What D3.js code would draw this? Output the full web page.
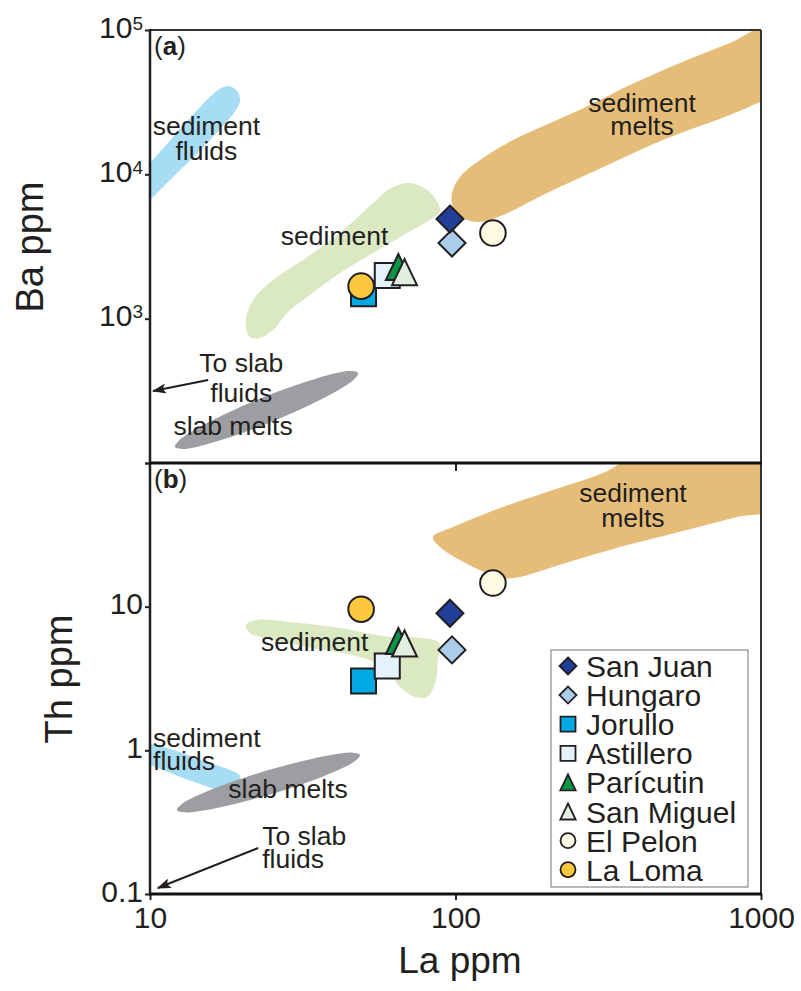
<!DOCTYPE html>
<html>
<head>
<meta charset="utf-8">
<script src="https://cdn.jsdelivr.net/npm/d3@7"></script>
<style>
  body { margin: 0; background: #fff; }
  svg { display: block; font-family: "Liberation Sans", Arial, Helvetica, sans-serif; }
</style>
</head>
<body>
<svg id="chart" width="801" height="991"></svg>
<script>
// ---- sample data (La, Ba, Th in ppm) ----
const samples = ["San Juan", "Hungaro", "Jorullo", "Astillero", "Parícutin", "San Miguel", "El Pelon", "La Loma"];
const laPpm = [95.9, 97.4, 50, 59.8, 65, 68.1, 132.6, 49.1];
const baPpm = [4900, 3340, 1490, 1990, 2280, 2100, 3920, 1680];
const thPpm = [9.0, 5.0, 3.04, 3.86, 5.77, 5.54, 14.6, 9.6];
const symbolKinds = ["diamond", "diamond", "square", "square", "triangle", "triangle", "circle", "circle"];
const fillColors = ["#213f99", "#abcde9", "#00a9e4", "#e4f2fb", "#0a9447", "#e2eee0", "#fefae3", "#fdc73e"];
const drawOrder = [2, 3, 7, 4, 5, 1, 0, 6];

// ---- axis ticks ----
const laTicks = [10, 100, 1000];
const baTicks = [100, 1000, 10000, 100000];
const thTicks = [0.1, 1, 10, 100];
const thTickLabels = ["0.1", "1", "10", ""];

// ---- source fields, panel (a): [La, Ba] ----
const sedFluidsBa = [[9.27, 10400], [10.2, 12570], [11.9, 18140], [13.8, 25770], [15.96, 35450], [17.1, 39630],
  [18.1, 40930], [19.3, 37780], [19.7, 32220], [19.1, 27910], [15.4, 16490], [11.9, 9580], [10.15, 6855], [9.27, 5660]];
const sedimentBa = [[20.8, 1094], [22.1, 1413], [25.3, 1853], [32.7, 2674], [41.9, 3922], [53.7, 6330], [62.4, 8170],
  [71.0, 8710], [80.7, 7790], [87.6, 6330], [89.0, 5480], [82.5, 4826], [69.4, 3922], [53.7, 2850], [41.9, 2072],
  [32.7, 1413], [28.1, 1094], [25.3, 834], [22.9, 735], [21.2, 746], [20.6, 875]];
const sedMeltsBa = [[1070, 104900], [791, 81260], [543, 59070], [372.6, 41570], [275.6, 30230], [214.9, 23780],
  [154.3, 17290], [120.3, 12570], [103.4, 9580], [97.4, 7425], [98.1, 5937], [105.8, 4982], [120.3, 4674], [143, 5226],
  [199.3, 7425], [290.5, 10720], [477.8, 17290], [791, 25770], [941.5, 30230], [1070, 35450]];
const slabMeltsBa = [[47.97, 420.4], [46.6, 380], [40.2, 308.9], [24.97, 192.1], [15.17, 133.9], [12.75, 125.2],
  [12.07, 129.1], [12.43, 142.7], [14.39, 175.6], [23.19, 282.2], [38.17, 405.2], [45.43, 433.3]];

// ---- source fields, panel (b): [La, Th] ----
const sedFluidsTh = [[9.27, 1.18], [10, 1.125], [12.5, 0.974], [15.7, 0.816], [18.3, 0.73], [19.7, 0.663],
  [19.4, 0.583], [17.2, 0.53], [14.6, 0.583], [12.1, 0.674], [10, 0.79], [9.27, 0.829]];
const sedimentTh = [[20.6, 7.45], [22.4, 8.08], [28.7, 7.82], [41.9, 7.10], [61.0, 6.15], [78.3, 6.05], [88.3, 5.58],
  [87.6, 4.25], [85.7, 2.94], [80.7, 2.35], [73.7, 2.35], [65.8, 2.76], [58.8, 3.74], [48.7, 4.46], [32.7, 5.24],
  [25.3, 5.86], [21.2, 6.56]];
const sedMeltsTh = [[84.4, 30.5], [98.1, 35.8], [143, 49.4], [208.5, 64.9], [304, 85.2], [401.7, 113.6],
  [1111, 113.6], [1111, 48.6], [834.5, 42.1], [572.5, 34.2], [345.5, 26.0], [208.5, 18.9], [162.6, 16.1],
  [145.2, 15.8], [126.8, 17.1], [103.4, 21.1], [89.0, 26.0]];
const slabMeltsTh = [[48.7, 0.928], [47.1, 0.848], [40.5, 0.716], [25.07, 0.497], [15.28, 0.384], [12.89, 0.370],
  [12.25, 0.384], [12.66, 0.420], [14.73, 0.498], [23.8, 0.718], [39.1, 0.929], [46.3, 0.963]];

const ink = "#231f20";
const fieldColors = { fluids: "#a7dcf5", sediment: "#dae9c2", melts: "#e5bd78", slab: "#9d9ea2" };

const svg = d3.select("#chart");

const x = d3.scaleLog().domain([10, 1000]).range([150, 761]);
const yBa = d3.scaleLog().domain([100, 100000]).range([463, 30]);
const yTh = d3.scaleLog().domain([0.1, 100]).range([894, 463]);

// clip regions for the two panels
const defs = svg.append("defs");
[["clipA", yBa], ["clipB", yTh]].forEach(([id, y]) => {
  const [y0, y1] = y.range();
  defs.append("clipPath").attr("id", id).append("rect")
    .attr("x", x.range()[0]).attr("y", y1)
    .attr("width", x.range()[1] - x.range()[0]).attr("height", y0 - y1);
});

// arrow head marker
defs.append("marker").attr("id", "arrowHead")
  .attr("viewBox", "0 0 14 10").attr("refX", 13).attr("refY", 5)
  .attr("markerWidth", 14).attr("markerHeight", 10).attr("markerUnits", "userSpaceOnUse")
  .attr("orient", "auto")
  .append("path").attr("d", "M0,0 L14,5 L0,10 L3,5 Z").attr("fill", ink);

// marker shapes; size = (half extent)^2
const shapeTypes = {
  diamond: { draw(ctx, size) { const r = Math.sqrt(size); ctx.moveTo(0, -r); ctx.lineTo(r, 0); ctx.lineTo(0, r); ctx.lineTo(-r, 0); ctx.closePath(); } },
  square: { draw(ctx, size) { const r = Math.sqrt(size); ctx.moveTo(-r, -r); ctx.lineTo(r, -r); ctx.lineTo(r, r); ctx.lineTo(-r, r); ctx.closePath(); } },
  triangle: { draw(ctx, size) { const r = Math.sqrt(size); ctx.moveTo(0, -r); ctx.lineTo(r * 0.96, r); ctx.lineTo(-r * 0.96, r); ctx.closePath(); } },
  circle: { draw(ctx, size) { const r = Math.sqrt(size); ctx.moveTo(r, 0); ctx.arc(0, 0, r, 0, 2 * Math.PI); } }
};
const plotRadius = { diamond: 13.5, square: 12.5, triangle: 13, circle: 12.8 };
const legendRadius = { diamond: 8.5, square: 7.5, triangle: 8, circle: 7.5 };

function drawPanel(opts) {
  const { y, clipId, fields, values, labels, tag } = opts;
  const g = svg.append("g");
  const clipped = g.append("g").attr("clip-path", `url(#${clipId})`);
  const line = d3.line().x(d => x(d[0])).y(d => y(d[1])).curve(d3.curveCatmullRomClosed.alpha(0.5));
  fields.forEach(f => {
    clipped.append("path").attr("d", line(f.pts)).attr("fill", fieldColors[f.kind]).attr("stroke", "none");
  });

  // samples
  drawOrder.forEach(i => {
    const k = symbolKinds[i];
    g.append("path")
      .attr("transform", `translate(${x(laPpm[i])},${y(values[i])})`)
      .attr("d", d3.symbol().type(shapeTypes[k]).size(plotRadius[k] * plotRadius[k])())
      .attr("fill", fillColors[i]).attr("stroke", ink).attr("stroke-width", 2).attr("stroke-linejoin", "miter");
  });

  // field labels (one text element per label, one tspan per line)
  labels.forEach(l => {
    const t = g.append("text")
      .attr("text-anchor", l.anchor || "middle")
      .attr("font-size", 26.5).attr("fill", ink);
    l.lines.forEach((s, j) => {
      t.append("tspan").attr("x", x(l.la)).attr("y", y(l.v[j])).text(s);
    });
  });

  // arrow toward slab fluids
  g.append("line")
    .attr("x1", x(opts.arrow[0][0])).attr("y1", y(opts.arrow[0][1]))
    .attr("x2", x(opts.arrow[1][0])).attr("y2", y(opts.arrow[1][1]))
    .attr("stroke", ink).attr("stroke-width", 2).attr("marker-end", "url(#arrowHead)");

  // panel tag
  const t = g.append("text").attr("x", x.range()[0] + 4).attr("y", y.range()[1] + 25)
    .attr("font-size", 26).attr("fill", ink);
  t.append("tspan").text("(");
  t.append("tspan").attr("font-weight", "bold").text(tag);
  t.append("tspan").text(")");
  return g;
}

drawPanel({
  y: yBa, clipId: "clipA", tag: "a", values: baPpm,
  fields: [
    { kind: "fluids", pts: sedFluidsBa },
    { kind: "sediment", pts: sedimentBa },
    { kind: "melts", pts: sedMeltsBa },
    { kind: "slab", pts: slabMeltsBa }
  ],
  labels: [
    { lines: ["sediment", "fluids"], la: 15.3, v: [18730, 12570] },
    { lines: ["sediment"], la: 40.2, v: [3239] },
    { lines: ["sediment", "melts"], la: 407.9, v: [27030, 18730] },
    { lines: ["To slab", "fluids"], la: 19.9, v: [427, 265] },
    { lines: ["slab melts"], la: 18.7, v: [156] }
  ],
  arrow: [[15.5, 376], [10.23, 315]]
});

drawPanel({
  y: yTh, clipId: "clipB", tag: "b", values: thPpm,
  fields: [
    { kind: "melts", pts: sedMeltsTh },
    { kind: "sediment", pts: sedimentTh },
    { kind: "fluids", pts: sedFluidsTh },
    { kind: "slab", pts: slabMeltsTh }
  ],
  labels: [
    { lines: ["sediment", "fluids"], la: 10.23, v: [1.055, 0.73], anchor: "start" },
    { lines: ["slab melts"], la: 28.3, v: [0.466] },
    { lines: ["sediment"], la: 34.6, v: [4.91] },
    { lines: ["To slab", "fluids"], la: 23.3, v: [0.219, 0.152], anchor: "start" },
    { lines: ["sediment", "melts"], la: 381, v: [53.5, 35.8] }
  ],
  arrow: [[22.6, 0.209], [10.6, 0.110]]
});

// ---- axes ----
function styleAxis(g) {
  g.select(".domain").remove();
  g.selectAll(".tick line").attr("stroke", ink).attr("stroke-width", 2);
  g.selectAll(".tick text").attr("fill", ink).attr("font-size", 30)
    .attr("font-family", "'Liberation Sans', Arial, Helvetica, sans-serif");
}

const axBa = svg.append("g").attr("transform", `translate(${x.range()[0]},0)`)
  .call(d3.axisLeft(yBa).tickValues(baTicks).tickSize(5).tickPadding(2).tickFormat(() => ""))
  .call(styleAxis);
axBa.selectAll(".tick text").each(function (d) {
  if (d <= 100) return;
  const t = d3.select(this).attr("dy", 7);
  t.append("tspan").text("10");
  t.append("tspan").attr("font-size", 19).attr("dy", -8).text(Math.round(Math.log10(d)));
});

svg.append("g").attr("transform", `translate(${x.range()[0]},0)`)
  .call(d3.axisLeft(yTh).tickValues(thTicks).tickSize(5).tickPadding(2)
    .tickFormat((d, i) => thTickLabels[i]))
  .call(styleAxis)
  .selectAll(".tick text").attr("dy", 7);

svg.append("g").attr("transform", `translate(0,${yTh.range()[0]})`)
  .call(d3.axisBottom(x).tickValues(laTicks).tickSize(6).tickFormat(d3.format("d")))
  .call(styleAxis)
  .selectAll(".tick text").attr("y", 34).attr("dy", 0);

// inner tick at La = 100 on the shared border
svg.append("g").attr("transform", `translate(0,${yTh.range()[1]})`)
  .call(d3.axisTop(x).tickValues([100]).tickSizeInner(-8).tickSizeOuter(0).tickFormat(() => ""))
  .call(styleAxis);

// ---- frame ----
const [xl, xr] = x.range();
const frame = svg.append("g").attr("fill", "none");
frame.append("line").attr("x1", xl).attr("x2", xr).attr("y1", yBa.range()[1]).attr("y2", yBa.range()[1])
  .attr("stroke", "#333").attr("stroke-width", 2);
frame.append("line").attr("x1", xr).attr("x2", xr).attr("y1", yBa.range()[1]).attr("y2", yTh.range()[0])
  .attr("stroke", "#333").attr("stroke-width", 2);
frame.append("line").attr("x1", xl).attr("x2", xl).attr("y1", yBa.range()[1] - 1).attr("y2", yTh.range()[0] + 1.5)
  .attr("stroke", ink).attr("stroke-width", 2.5);
frame.append("line").attr("x1", xl).attr("x2", xr + 1).attr("y1", yTh.range()[1]).attr("y2", yTh.range()[1])
  .attr("stroke", "#111").attr("stroke-width", 3);
frame.append("line").attr("x1", xl).attr("x2", xr + 1).attr("y1", yTh.range()[0]).attr("y2", yTh.range()[0])
  .attr("stroke", "#111").attr("stroke-width", 3);

// ---- axis titles ----
svg.append("text").attr("transform", "translate(43,247) rotate(-90)")
  .attr("text-anchor", "middle").attr("font-size", 38).attr("fill", ink).text("Ba ppm");
svg.append("text").attr("transform", "translate(72,679) rotate(-90)")
  .attr("text-anchor", "middle").attr("font-size", 38).attr("fill", ink).text("Th ppm");
svg.append("text").attr("x", 460).attr("y", 973)
  .attr("text-anchor", "middle").attr("font-size", 37).attr("fill", ink).text("La ppm");

// ---- legend ----
const legend = svg.append("g");
legend.append("rect").attr("x", 551).attr("y", 650).attr("width", 197).attr("height", 237)
  .attr("fill", "#fff").attr("stroke", "#8a8a8a").attr("stroke-width", 1.2);
samples.forEach((name, i) => {
  const cy = 666 + i * 29.1;
  const k = symbolKinds[i];
  legend.append("path")
    .attr("transform", `translate(568,${cy})`)
    .attr("d", d3.symbol().type(shapeTypes[k]).size(legendRadius[k] * legendRadius[k])())
    .attr("fill", fillColors[i]).attr("stroke", ink).attr("stroke-width", 1.8);
  legend.append("text").attr("x", 586).attr("y", cy).attr("dy", 11)
    .attr("font-size", 30).attr("fill", ink).text(name);
});
</script>
</body>
</html>
